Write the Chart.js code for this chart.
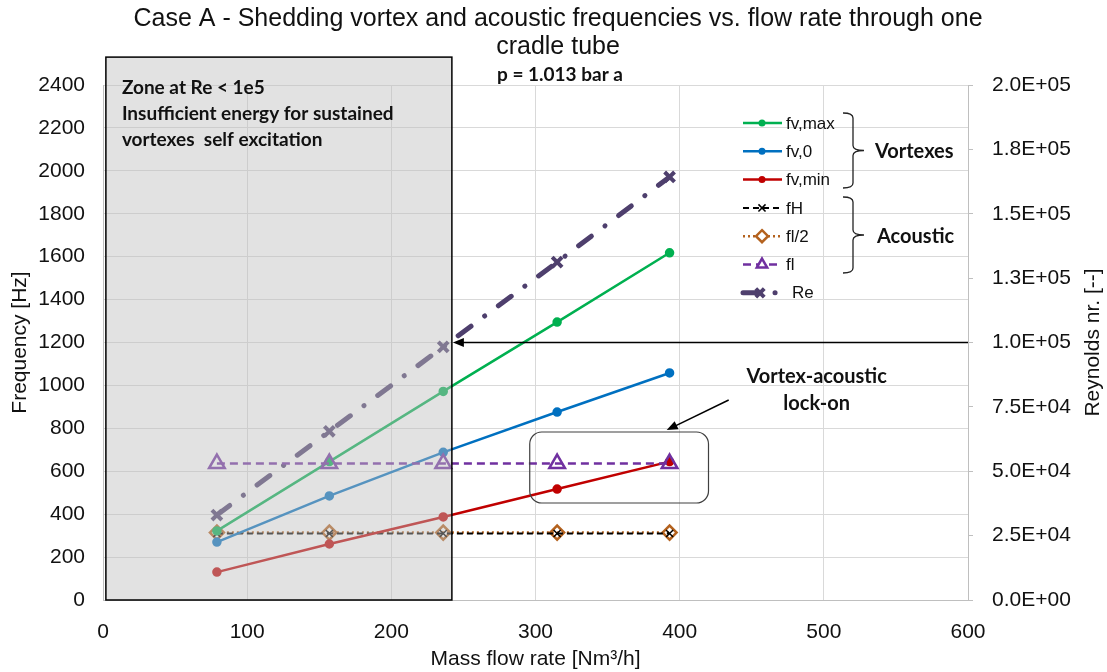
<!DOCTYPE html>
<html>
<head>
<meta charset="utf-8">
<script src="https://cdn.jsdelivr.net/npm/chart.js@4.4.0/dist/chart.umd.min.js"></script>
<style>
  html, body { margin: 0; padding: 0; background: #fff; }
</style>
</head>
<body>
<canvas id="chart" width="1107" height="672"></canvas>
<script>
// data
const flowRate = [79, 157, 236, 315, 393];
const fvMax = [322, 645, 972, 1295, 1618];
const fv0 = [270, 485, 688, 876, 1058];
const fvMin = [130, 261, 387, 517, 645];
const fH = [310, 310, 310, 310, 310];
const flHalf = [314, 314, 314, 314, 314];
const fl = [636, 636, 636, 636, 636];
const reynolds = [33000, 65500, 98300, 131200, 164300];

const flowTicks = [0, 100, 200, 300, 400, 500, 600];
const freqTicks = [0, 200, 400, 600, 800, 1000, 1200, 1400, 1600, 1800, 2000, 2200, 2400];
const reTicks = [0, 25000, 50000, 75000, 100000, 125000, 150000, 175000, 200000];

const titleLines = ["Case A - Shedding vortex and acoustic frequencies vs. flow rate through one", "cradle tube"];
const subTitle = "p = 1.013 bar a";
const zoneLines = ["Zone at Re < 1e5", "Insufficient energy for sustained", "vortexes  self excitation"];
const lockLines = ["Vortex-acoustic", "lock-on"];

const SANS = "'Liberation Sans', Arial, sans-serif";
const BOLD = "Lato, 'Open Sans', sans-serif";
Chart.defaults.font.family = SANS;
Chart.defaults.color = "#111";

function pts(ys) {
  return flowRate.map((x, i) => ({ x: x, y: ys[i] }));
}

function sci(v) {
  const s = v.toExponential(1).split("e");
  const e = parseInt(s[1], 10);
  return s[0] + "E" + (e < 0 ? "-" : "+") + String(Math.abs(e)).padStart(2, "0");
}

function setTicks(list) {
  return function (scale) {
    scale.ticks = list.map(v => ({ value: v }));
  };
}

const datasets = [
  { label: "fv,max", data: pts(fvMax), borderColor: "#00b050", backgroundColor: "#00b050",
    borderWidth: 2.5, pointStyle: "circle", pointRadius: 3.5, yAxisID: "y" },
  { label: "fv,0", data: pts(fv0), borderColor: "#0070c0", backgroundColor: "#0070c0",
    borderWidth: 2.5, pointStyle: "circle", pointRadius: 3.5, yAxisID: "y" },
  { label: "fv,min", data: pts(fvMin), borderColor: "#c00000", backgroundColor: "#c00000",
    borderWidth: 2.5, pointStyle: "circle", pointRadius: 3.5, yAxisID: "y" },
  { label: "fH", data: pts(fH), borderColor: "#000", backgroundColor: "transparent",
    borderWidth: 2, borderDash: [6, 4], pointStyle: "crossRot", pointRadius: 5, pointBorderWidth: 1.5, yAxisID: "y" },
  { label: "fl/2", data: pts(flHalf), borderColor: "#b4621e", backgroundColor: "transparent",
    borderWidth: 2.5, borderDash: [2, 3], pointStyle: "rectRot", pointRadius: 7, pointBorderWidth: 2.5, yAxisID: "y" },
  { label: "fl", data: pts(fl), borderColor: "#7030a0", backgroundColor: "transparent",
    borderWidth: 2.5, borderDash: [8, 5], pointStyle: "triangle", pointRadius: 9, pointBorderWidth: 2.5, yAxisID: "y", order: -1 },
  { label: "Re", data: pts(reynolds), borderColor: "#4e3f6d", backgroundColor: "#4e3f6d",
    borderWidth: 5, borderDash: [16, 17, 0.1, 17], borderCapStyle: "round",
    pointStyle: "crossRot", pointRadius: 7, pointBorderWidth: 4, yAxisID: "y2" }
];

function arrow(ctx, x1, y1, x2, y2) {
  const a = Math.atan2(y2 - y1, x2 - x1);
  ctx.beginPath();
  ctx.moveTo(x1, y1);
  ctx.lineTo(x2 - 8 * Math.cos(a), y2 - 8 * Math.sin(a));
  ctx.stroke();
  ctx.beginPath();
  ctx.moveTo(x2, y2);
  ctx.lineTo(x2 - 11 * Math.cos(a) + 4.5 * Math.sin(a), y2 - 11 * Math.sin(a) - 4.5 * Math.cos(a));
  ctx.lineTo(x2 - 11 * Math.cos(a) - 4.5 * Math.sin(a), y2 - 11 * Math.sin(a) + 4.5 * Math.cos(a));
  ctx.closePath();
  ctx.fill();
}

function marker(ctx, ds, x, y) {
  ctx.save();
  ctx.setLineDash([]);
  ctx.strokeStyle = ds.borderColor;
  ctx.fillStyle = ds.backgroundColor;
  const r = ds.pointRadius;
  ctx.lineWidth = ds.pointBorderWidth || 1;
  ctx.beginPath();
  if (ds.pointStyle === "circle") {
    ctx.arc(x, y, r, 0, Math.PI * 2);
    ctx.fill();
  } else if (ds.pointStyle === "crossRot") {
    const d = r * Math.SQRT1_2;
    ctx.moveTo(x - d, y - d); ctx.lineTo(x + d, y + d);
    ctx.moveTo(x + d, y - d); ctx.lineTo(x - d, y + d);
    ctx.stroke();
  } else if (ds.pointStyle === "rectRot") {
    ctx.moveTo(x, y - r); ctx.lineTo(x + r, y); ctx.lineTo(x, y + r); ctx.lineTo(x - r, y);
    ctx.closePath();
    ctx.fillStyle = "#fff"; ctx.fill(); ctx.stroke();
  } else if (ds.pointStyle === "triangle") {
    ctx.moveTo(x, y - r); ctx.lineTo(x + r * 0.866, y + r * 0.5); ctx.lineTo(x - r * 0.866, y + r * 0.5);
    ctx.closePath();
    ctx.fillStyle = "#fff"; ctx.fill(); ctx.stroke();
  }
  ctx.restore();
}

function brace(ctx, x0, xm, xt, top, bot) {
  const mid = (top + bot) / 2;
  const r = 5;
  ctx.beginPath();
  ctx.moveTo(x0, top);
  ctx.quadraticCurveTo(xm, top, xm, top + r);
  ctx.lineTo(xm, mid - r);
  ctx.quadraticCurveTo(xm, mid, xt, mid);
  ctx.quadraticCurveTo(xm, mid, xm, mid + r);
  ctx.lineTo(xm, bot - r);
  ctx.quadraticCurveTo(xm, bot, x0, bot);
  ctx.stroke();
}

const decor = {
  id: "decor",
  afterDatasetsDraw(chart) {
    const ctx = chart.ctx;
    const xs = chart.scales.x, ys = chart.scales.y;
    const area = chart.chartArea;

    // low-Re zone, drawn over the data
    const bx1 = xs.getPixelForValue(2), bx2 = xs.getPixelForValue(242);
    const by1 = ys.getPixelForValue(2530), by2 = ys.getPixelForValue(0);
    ctx.save();
    ctx.fillStyle = "rgba(190,190,190,0.45)";
    ctx.fillRect(bx1, by1, bx2 - bx1, by2 - by1);
    ctx.strokeStyle = "#000";
    ctx.lineWidth = 1.5;
    ctx.strokeRect(bx1, by1, bx2 - bx1, by2 - by1);
    ctx.fillStyle = "#111";
    ctx.font = "bold 19px " + BOLD;
    ctx.textBaseline = "middle";
    zoneLines.forEach((t, i) => ctx.fillText(t, bx1 + 16, by1 + 31 + i * 26));

    // Re = 1e5 arrow
    ctx.fillStyle = "#000";
    ctx.lineWidth = 1.5;
    arrow(ctx, area.right, ys.getPixelForValue(1200), bx2 + 1, ys.getPixelForValue(1200));

    // lock-on box, arrow and text
    ctx.strokeStyle = "#404040";
    ctx.lineWidth = 1.2;
    ctx.beginPath();
    ctx.roundRect(xs.getPixelForValue(296), ys.getPixelForValue(783),
      xs.getPixelForValue(420) - xs.getPixelForValue(296), ys.getPixelForValue(452) - ys.getPixelForValue(783), 12);
    ctx.stroke();
    ctx.strokeStyle = "#000";
    ctx.lineWidth = 1.5;
    arrow(ctx, xs.getPixelForValue(434), ys.getPixelForValue(932), xs.getPixelForValue(391), ys.getPixelForValue(792));
    ctx.font = "bold 20px " + BOLD;
    ctx.textAlign = "center";
    ctx.fillStyle = "#111";
    lockLines.forEach((t, i) => ctx.fillText(t, xs.getPixelForValue(495), ys.getPixelForValue(1040) + i * 27));

    // legend
    ctx.textAlign = "left";
    ctx.font = "17px " + SANS;
    chart.data.datasets.forEach((ds, i) => {
      const y = 123 + i * 28.3;
      ctx.save();
      ctx.strokeStyle = ds.borderColor;
      if (ds.label === "Re") {
        ctx.lineWidth = 5;
        ctx.lineCap = "round";
        ctx.setLineDash([14, 18, 0.1, 100]);
      } else {
        ctx.lineWidth = ds.borderWidth;
        ctx.setLineDash(ds.borderDash || []);
      }
      ctx.beginPath();
      ctx.moveTo(743, y);
      ctx.lineTo(782, y);
      ctx.stroke();
      ctx.restore();
      const m = Object.assign({}, ds, { pointRadius: Math.min(ds.pointRadius, 6) });
      marker(ctx, m, ds.label === "Re" ? 760 : 762, y);
      ctx.fillStyle = "#111";
      ctx.fillText(ds.label, ds.label === "Re" ? 792 : 786, y + 1);
    });
    ctx.strokeStyle = "#222";
    ctx.lineWidth = 1.3;
    brace(ctx, 843, 853, 864, 113, 188);
    brace(ctx, 843, 853, 864, 197, 273);
    ctx.font = "bold 20px " + BOLD;
    ctx.fillText("Vortexes", 875, 152);
    ctx.fillText("Acoustic", 877, 237);

    // titles
    ctx.textAlign = "center";
    ctx.font = "25px " + SANS;
    ctx.fillText(titleLines[0], 558, 19);
    ctx.fillText(titleLines[1], 558, 47);
    ctx.font = "bold 19px " + BOLD;
    ctx.fillText(subTitle, 560, 75);

    // right axis title, reading bottom to top
    ctx.translate(1093, (area.top + area.bottom) / 2);
    ctx.rotate(-Math.PI / 2);
    ctx.font = "21px " + SANS;
    ctx.fillText("Reynolds nr. [--]", 0, 0);
    ctx.restore();
  }
};

new Chart(document.getElementById("chart"), {
  type: "line",
  data: { datasets: datasets },
  options: {
    responsive: false,
    animation: false,
    layout: { padding: { top: 85, left: 0, right: 0, bottom: 0 } },
    plugins: { legend: { display: false }, tooltip: { enabled: false } },
    elements: { line: { tension: 0 } },
    scales: {
      x: {
        type: "linear", min: 0, max: 600,
        afterBuildTicks: setTicks(flowTicks),
        afterFit: s => { s.height = 72; },
        grid: { color: "#d9d9d9", drawTicks: false },
        border: { color: "#bfbfbf" },
        ticks: { padding: 20, font: { size: 21 }, callback: v => String(v) },
        title: { display: true, text: "Mass flow rate [Nm\u00b3/h]", font: { size: 21 }, padding: { top: 0, bottom: 0 } }
      },
      y: {
        position: "left", min: 0, max: 2400,
        afterBuildTicks: setTicks(freqTicks),
        afterFit: s => { s.width = 103; },
        grid: { color: "#d9d9d9", drawTicks: false },
        border: { color: "#bfbfbf" },
        ticks: { padding: 18, font: { size: 21 }, callback: v => String(v) },
        title: { display: true, text: "Frequency [Hz]", font: { size: 21 }, padding: { top: 8, bottom: 0 } }
      },
      y2: {
        position: "right", min: 0, max: 200000,
        afterBuildTicks: setTicks(reTicks),
        afterFit: s => { s.width = 139; },
        grid: { drawOnChartArea: false, color: "#bfbfbf", tickLength: 5 },
        border: { color: "#bfbfbf" },
        ticks: { padding: 19, font: { size: 21 }, callback: v => sci(v) }
      }
    }
  },
  plugins: [decor]
});
</script>
</body>
</html>
